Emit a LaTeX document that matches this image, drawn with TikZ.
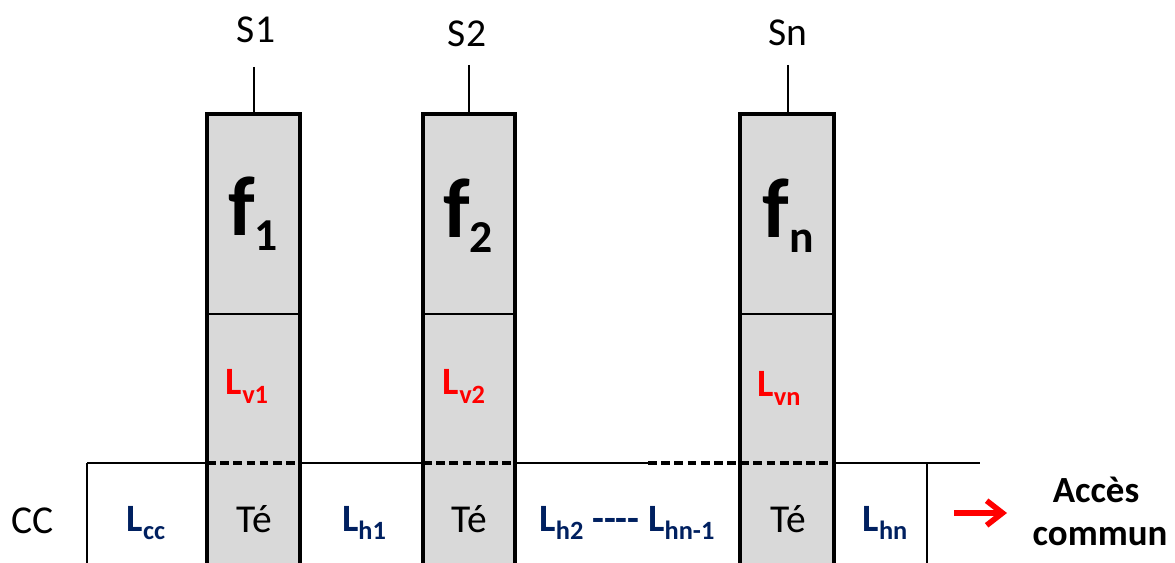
\documentclass[tikz,border=0pt]{standalone}
\usepackage{fontspec}
\setmainfont{Carlito}
\usetikzlibrary{arrows.meta}
\definecolor{navy}{HTML}{002060}
\definecolor{colfill}{HTML}{D9D9D9}
\definecolor{rred}{HTML}{FF0000}
\newcommand\Lsb[1]{L\raisebox{-5pt}{\fontsize{15}{15}\selectfont #1}}
\newcommand\fsb[1]{\fontsize{48}{48}\selectfont f\raisebox{-8.5pt}{\fontsize{26}{26}\selectfont #1}}
\tikzset{
  colborder/.style={line width=2.3pt, line join=miter},
  thinline/.style={line width=1.6pt},
  dashline/.style={line width=2pt, dash pattern=on 5pt off 2.5pt},
  lbl/.style={anchor=base, inner sep=0pt, font=\fontsize{22.5}{22.5}\selectfont},
  blbl/.style={anchor=base, inner sep=0pt, font=\fontsize{22}{22}\selectfont\bfseries, text=navy},
  rlbl/.style={anchor=base, inner sep=0pt, font=\fontsize{22}{22}\selectfont\bfseries, text=rred},
  flbl/.style={anchor=base, inner sep=0pt, font=\bfseries},
  acclbl/.style={anchor=base, inner sep=0pt, font=\fontsize{21}{21}\selectfont\bfseries},
  redarrow/.style={-{Straight Barb[length=9pt,width=14pt]}, line width=3.2pt, rred},
}
\begin{document}
\begin{tikzpicture}[x=0.02cm,y=-0.02cm]
\useasboundingbox (0,0) rectangle (1175,563);
% column fills
\fill[colfill] (207,114) rectangle (300,563);
\fill[colfill] (423,114) rectangle (515,563);
\fill[colfill] (740,114) rectangle (834,563);
% horizontal line coordinates
\coordinate (hL) at (87,463);
\coordinate (c1l) at (207,463);
\coordinate (c1r) at (300,463);
\coordinate (c2l) at (423,463);
\coordinate (c2r) at (515,463);
\coordinate (dstart) at (648,463);
\coordinate (cnl) at (740,463);
\coordinate (cnr) at (834,463);
\coordinate (vR) at (927,463);
\coordinate (hR) at (980,463);
\coordinate (hLb) at (87,563);
\coordinate (vRb) at (927,563);
\draw[thinline] (hL) -- (c1l);
\draw[thinline] (c1r) -- (c2l);
\draw[thinline] (c2r) -- (dstart);
\draw[thinline] (cnr) -- (hR);
\draw[dashline] (c1l) -- (c1r);
\draw[dashline] (c2l) -- (c2r);
\draw[dashline] (dstart) -- (cnr);
\draw[thinline] (hL) -- (hLb);
\draw[thinline] (vR) -- (vRb);
% separators
\draw[thinline] (207,314) -- (300,314);
\draw[thinline] (423,314) -- (515,314);
\draw[thinline] (740,314) -- (834,314);
% column borders
\draw[colborder] (207,563) -- (207,114) -- (300,114) -- (300,563);
\draw[colborder] (423,563) -- (423,114) -- (515,114) -- (515,563);
\draw[colborder] (740,563) -- (740,114) -- (834,114) -- (834,563);
% stems
\coordinate (s1top) at (254,67);
\coordinate (s1bot) at (254,114);
\coordinate (s2top) at (469,65);
\coordinate (s2bot) at (469,114);
\coordinate (sntop) at (788,65);
\coordinate (snbot) at (788,114);
\draw[thinline] (s1top) -- (s1bot);
\draw[thinline] (s2top) -- (s2bot);
\draw[thinline] (sntop) -- (snbot);
% top labels
\node[lbl] (S1) at (256,43) {S1};
\node[lbl] (S2) at (467,47) {S2};
\node[lbl] (Sn) at (788,46) {Sn};
% f labels
\node[flbl] (f1) at (253,236) {\fsb{1}};
\node[flbl] (f2) at (468,238) {\fsb{2}};
\node[flbl] (fn) at (788,238) {\fsb{n}};
% Lv labels
\node[rlbl] (Lv1) at (247,395) {\Lsb{v1}};
\node[rlbl] (Lv2) at (464,395) {\Lsb{v2}};
\node[rlbl] (Lvn) at (779,397) {\Lsb{vn}};
% bottom row
\node[lbl] (CC) at (33,533) {CC};
\node[blbl] (Lcc) at (146,531) {\Lsb{cc}};
\node[lbl] (Te1) at (254,532) {Té};
\node[blbl] (Lh1) at (364,531) {\Lsb{h1}};
\node[lbl] (Te2) at (469,532) {Té};
\node[blbl] (Lh2n) at (627,531) {\Lsb{h2} -{}-{}-{}- \Lsb{hn-1}};
\node[lbl] (Ten) at (788,532) {Té};
\node[blbl] (Lhn) at (885,531) {\Lsb{hn}};
% arrow and common access
\coordinate (ar1) at (954,513);
\coordinate (ar2) at (1007,513);
\draw[redarrow] (ar1) -- (ar2);
\node[acclbl] (acc) at (1096,502) {Accès};
\node[acclbl] (com) at (1100,545) {commun};
\end{tikzpicture}
\end{document}
